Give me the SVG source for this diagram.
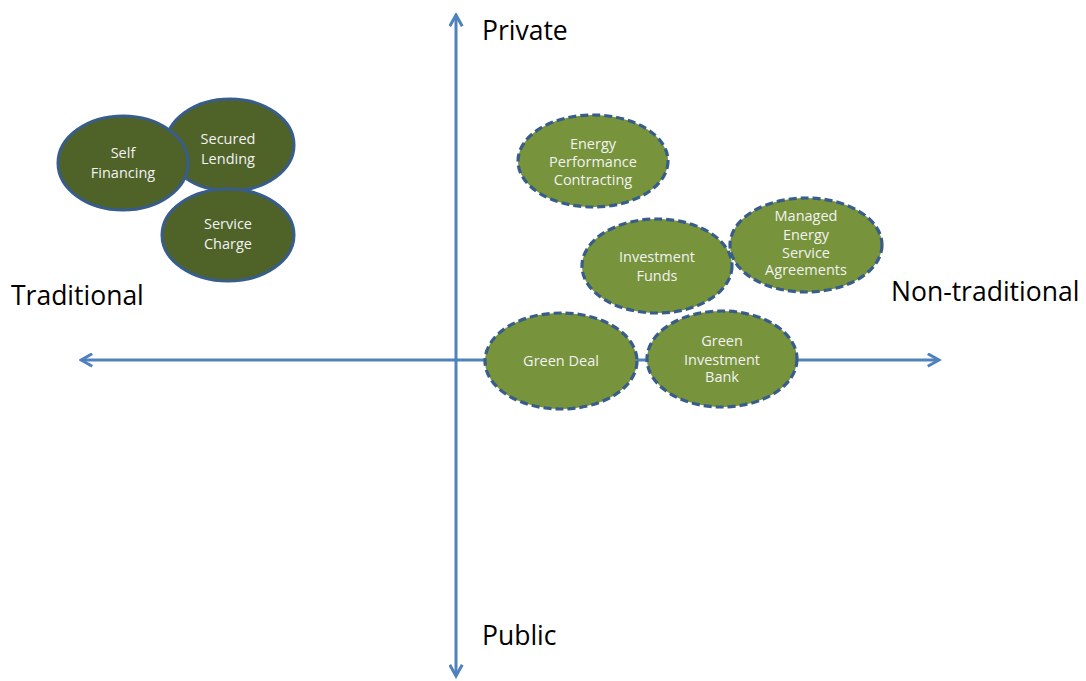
<svg xmlns="http://www.w3.org/2000/svg" width="1086" height="681" viewBox="0 0 1086 681">
<defs>
<marker id="arr" viewBox="0 0 12 12" refX="10" refY="6" markerWidth="5" markerHeight="5" orient="auto-start-reverse" markerUnits="strokeWidth">
<path d="M1,1 L10,6 L1,11" fill="none" stroke="#4F81BD" stroke-width="2.4" stroke-linejoin="miter"/>
</marker>
</defs>
<style>
.ax{stroke:#4F81BD;stroke-width:3;fill:none}
.trad{fill:#4F6228;stroke:#385D8A;stroke-width:3}
.non{fill:#77933C;stroke:#385D8A;stroke-width:3.2;stroke-dasharray:8 4}
.t{font-family:"Open Sans","Liberation Sans",sans-serif;font-size:14.5px;fill:#F2F2F2;text-anchor:middle}
.lab{font-family:"Open Sans","Liberation Sans",sans-serif;font-size:26.5px;fill:#000}
</style>
<g id="connectors">
<line class="ax" x1="456" y1="676" x2="456" y2="15" marker-start="url(#arr)" marker-end="url(#arr)"/>
<line class="ax" x1="81" y1="360" x2="939" y2="360" marker-start="url(#arr)" marker-end="url(#arr)"/>
</g>
<g id="axis-labels">
<text class="lab" x="482" y="40">Private</text>
<text class="lab" x="482" y="645">Public</text>
<text class="lab" x="11" y="305">Traditional</text>
<text class="lab" x="891" y="301">Non-traditional</text>
</g>
<g id="secured-lending">
<ellipse class="trad" cx="230" cy="145" rx="64" ry="46"/>
<text class="t" x="228" y="144">Secured</text>
<text class="t" x="228" y="164">Lending</text>
</g>
<g id="self-financing">
<ellipse class="trad" cx="123" cy="163" rx="65" ry="47"/>
<text class="t" x="123" y="158">Self</text>
<text class="t" x="123" y="178">Financing</text>
</g>
<g id="service-charge">
<ellipse class="trad" cx="228" cy="235" rx="66" ry="46"/>
<text class="t" x="228" y="229">Service</text>
<text class="t" x="228" y="249">Charge</text>
</g>
<g id="energy-performance-contracting">
<ellipse class="non" cx="593" cy="161" rx="75" ry="46"/>
<text class="t" x="593" y="149">Energy</text>
<text class="t" x="593" y="167">Performance</text>
<text class="t" x="593" y="185">Contracting</text>
</g>
<g id="investment-funds">
<ellipse class="non" cx="657" cy="266" rx="75" ry="47"/>
<text class="t" x="657" y="262">Investment</text>
<text class="t" x="657" y="281">Funds</text>
</g>
<g id="managed-energy-service-agreements">
<ellipse class="non" cx="806" cy="245" rx="76" ry="47"/>
<text class="t" x="806" y="221">Managed</text>
<text class="t" x="806" y="240">Energy</text>
<text class="t" x="806" y="258">Service</text>
<text class="t" x="806" y="275">Agreements</text>
</g>
<g id="green-deal">
<ellipse class="non" cx="561" cy="361" rx="76" ry="48"/>
<text class="t" x="561" y="366">Green Deal</text>
</g>
<g id="green-investment-bank">
<ellipse class="non" cx="722" cy="359" rx="75" ry="48"/>
<text class="t" x="722" y="346">Green</text>
<text class="t" x="722" y="365">Investment</text>
<text class="t" x="722" y="382">Bank</text>
</g>
</svg>
